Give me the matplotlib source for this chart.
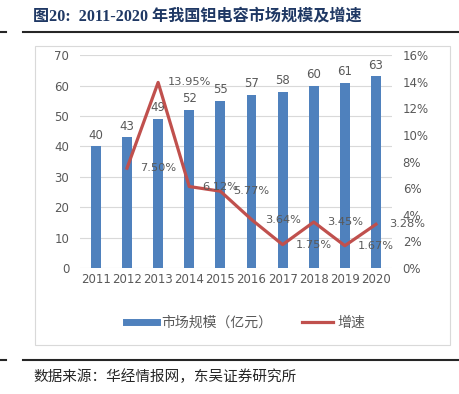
import matplotlib
matplotlib.use("Agg")
import matplotlib.pyplot as plt
from matplotlib.lines import Line2D
from matplotlib.patches import Rectangle

plt.rcParams['font.family'] = ['DejaVu Sans', 'Noto Sans CJK SC']

# Data
years = ['2011', '2012', '2013', '2014', '2015', '2016', '2017', '2018', '2019', '2020']
market_size = [40, 43, 49, 52, 55, 57, 58, 60, 61, 63]
growth_years = ['2012', '2013', '2014', '2015', '2016', '2017', '2018', '2019', '2020']
growth = [7.50, 13.95, 6.12, 5.77, 3.64, 1.75, 3.45, 1.67, 3.28]
left_ticks = [0, 10, 20, 30, 40, 50, 60, 70]
right_ticks = [0, 2, 4, 6, 8, 10, 12, 14, 16]

BLUE = '#4F81BD'
RED = '#C0504D'
GREY = '#595959'

fig = plt.figure(figsize=(4.59, 3.94), dpi=100)

# chart frame
fig.patches.append(Rectangle((0.076, 0.124), 0.904, 0.759, transform=fig.transFigure,
                             facecolor='white', edgecolor='#D9D9D9', lw=0.8, zorder=-5))

# title and rules
fig.text(0.072, 0.957, '图20:  2011-2020 年我国钽电容市场规模及增速',
         family=['Liberation Serif', 'Noto Sans CJK SC'], weight='bold',
         fontsize=11.6, color='#1F3864', va='center', ha='left')
for y in (0.919, 0.086):
    fig.add_artist(Line2D([0.0, 0.012], [y, y], transform=fig.transFigure, color='#262626', lw=1.5))
    fig.add_artist(Line2D([0.05, 1.0], [y, y], transform=fig.transFigure, color='#262626', lw=1.5))
fig.text(0.072, 0.043, '数据来源：华经情报网，东吴证券研究所', family=['Noto Sans CJK SC'],
         fontsize=10.5, color='#262626', va='center', ha='left')

ax = fig.add_axes([0.175, 0.320, 0.678, 0.540])
ax.patch.set_visible(False)
x = list(range(len(years)))
ax.bar(x, market_size, width=0.32, color=BLUE, zorder=3, label='市场规模（亿元）')
ax.set_xlim(-0.5, len(years) - 0.5)
ax.set_ylim(0, 70)
ax.set_yticks(left_ticks)
ax.set_xticks(x)
ax.set_xticklabels(years)
ax.grid(axis='y', color='#D9D9D9', lw=0.8, zorder=0)
for s in ax.spines.values():
    s.set_visible(False)
ax.tick_params(axis='both', length=0, labelsize=8.5, colors=GREY, pad=4)
ax.tick_params(axis='y', pad=8)
for xi, v in zip(x, market_size):
    ax.text(xi, v + 1.5, str(v), ha='center', va='bottom', fontsize=8.5, color=GREY, zorder=5)

ax2 = ax.twinx()
gx = [years.index(y) for y in growth_years]
ax2.plot(gx, growth, color=RED, lw=2.3, zorder=4, label='增速')
ax2.set_ylim(0, 16)
ax2.set_yticks(right_ticks)
ax2.set_yticklabels([f'{t}%' for t in right_ticks])
for s in ax2.spines.values():
    s.set_visible(False)
ax2.tick_params(axis='y', length=0, labelsize=8.5, colors=GREY, pad=8)
# labels in the reference sit one category to the right of their points
for xi, v in zip(gx, growth):
    ax2.text(xi + 1, v, f'{v:.2f}%', ha='center', va='center', fontsize=8.2, color=GREY,
             zorder=6, clip_on=False)

handles = [Line2D([], [], color=BLUE, lw=5), Line2D([], [], color=RED, lw=2.3)]
fig.legend(handles, ['市场规模（亿元）', '增速'], loc='center', bbox_to_anchor=(0.535, 0.18),
           ncol=2, frameon=False, handlelength=2.2, handletextpad=0.3, columnspacing=2.2,
           labelcolor=GREY, prop={'family': ['Noto Sans CJK SC'], 'size': 10})

fig.savefig('out.png', dpi=100)
